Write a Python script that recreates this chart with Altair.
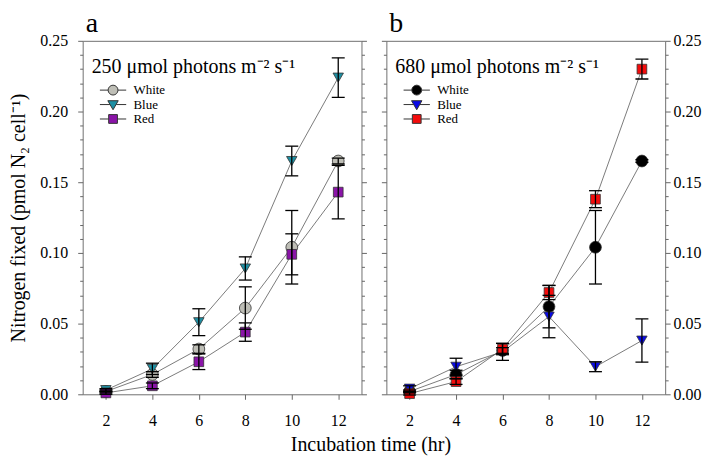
import altair as alt
import pandas as pd

FONT = "Liberation Serif"

times = [2, 4, 6, 8, 10, 12]
series = ["White", "Blue", "Red"]

# Panel a: 250 umol photons m-2 s-1
a_white = [0.002, 0.014, 0.032, 0.061, 0.104, 0.165]
a_white_err = [0.001, 0.002, 0.003, 0.015, 0.026, 0.002]
a_blue = [0.003, 0.018, 0.051, 0.089, 0.165, 0.224]
a_blue_err = [0.001, 0.004, 0.0095, 0.0082, 0.0105, 0.014]
a_red = [0.001, 0.006, 0.023, 0.044, 0.099, 0.143]
a_red_err = [0.001, 0.002, 0.0055, 0.0065, 0.0145, 0.019]

# Panel b: 680 umol photons m-2 s-1
b_white = [0.002, 0.014, 0.031, 0.062, 0.104, 0.165]
b_white_err = [0.001, 0.003, 0.002, 0.015, 0.026, 0.001]
b_blue = [0.004, 0.0195, 0.030, 0.055, 0.0195, 0.038]
b_blue_err = [0.002, 0.006, 0.006, 0.015, 0.0035, 0.0153]
b_red = [0.0005, 0.009, 0.032, 0.072, 0.138, 0.230]
b_red_err = [0.001, 0.002, 0.004, 0.005, 0.006, 0.007]

a_colors = ["#BEBEB6", "#1E8FA3", "#8A14A8"]
b_colors = ["#000000", "#0A0AE6", "#F40C0C"]

x_ticks = [2, 4, 6, 8, 10, 12]
y_ticks = [round(0.01 * i, 2) for i in range(26)]

shapes = ["circle", "triangle-down", "square"]
sizes = [140, 110, 95]
legend_paths = [
    "M-2.4,0L-0.9,0M0.9,0L2.4,0M0.9,0A0.9,0.9,0,1,1,-0.9,0A0.9,0.9,0,1,1,0.9,0Z",
    "M-2.4,0L-0.57,0M0.57,0L2.4,0M-0.95,-0.7L0.95,-0.7L0,0.95Z",
    "M-2.4,0L-0.8,0M0.8,0L2.4,0M-0.8,-0.8L0.8,-0.8L0.8,0.8L-0.8,0.8Z",
]


def build_df(means, errs):
    rows = []
    for name, m_list, e_list in zip(series, means, errs):
        for t, m, e in zip(times, m_list, e_list):
            rows.append(dict(time=t, value=m, lo=m - e, hi=m + e, light=name))
    return pd.DataFrame(rows)


df_a = build_df([a_white, a_blue, a_red], [a_white_err, a_blue_err, a_red_err])
df_b = build_df([b_white, b_blue, b_red], [b_white_err, b_blue_err, b_red_err])

major = "round(datum.value * 100) % 5 == 0"
tick_size = {"condition": {"test": major, "value": 5}, "value": 3}

xs = alt.Scale(domain=[1, 13], nice=False, zero=False)
ys = alt.Scale(domain=[0, 0.25], nice=False, zero=False)

x_axis = alt.Axis(values=x_ticks, format="d", labelFont=FONT, labelFontSize=16,
                  labelColor="black", labelPadding=13, tickSize=5, tickColor="#666",
                  domain=False, grid=False, title=None)


def y_axis_labels(orient, pad, title=None):
    kw = dict(orient=orient, values=y_ticks,
              labelExpr=f"{major} ? format(datum.value, '.2f') : ''",
              labelOverlap=False, labelFont=FONT, labelFontSize=16, labelColor="black",
              labelPadding=pad, tickSize=tick_size, tickColor="#666", domain=False,
              grid=False)
    if title:
        kw.update(title=title, titleFont=FONT, titleFontSize=20, titleFontWeight="normal",
                  titleColor="black", titlePadding=11)
    else:
        kw.update(title=None)
    return alt.Axis(**kw)


def y_axis_ticks(orient):
    return alt.Axis(orient=orient, values=y_ticks, labels=False, tickSize=tick_size,
                    tickColor="#666", domain=False, grid=False, title=None)


def make_panel(df, colors, legend_title, letter, left_axis, right_axis):
    X = alt.X("time:Q", scale=xs, axis=x_axis)
    base = alt.Chart(df)
    lines = base.mark_line(color="#5a5a5a", strokeWidth=0.8).encode(
        x=X, y=alt.Y("value:Q", scale=ys, axis=left_axis), detail="light:N", order="time:Q")
    pts = []
    for name, shp, sz, col in zip(series, shapes, sizes, colors):
        pts.append(base.transform_filter(alt.datum.light == name).mark_point(
            shape=shp, size=sz, filled=True, fill=col, stroke="#333", strokeWidth=0.8,
            opacity=1).encode(x=X, y=alt.Y("value:Q", scale=ys, axis=None)))
    rules = base.mark_rule(color="black", strokeWidth=1.3).encode(
        x=X, y=alt.Y("lo:Q", scale=ys, axis=right_axis), y2="hi:Q")
    cap_lo = base.mark_tick(orient="horizontal", color="black", size=13, thickness=1.3,
                            opacity=1).encode(x=X, y=alt.Y("lo:Q", scale=ys, axis=None))
    cap_hi = base.mark_tick(orient="horizontal", color="black", size=13, thickness=1.3,
                            opacity=1).encode(x=X, y=alt.Y("hi:Q", scale=ys, axis=None))
    leg = alt.Legend(title=legend_title, orient="none", legendX=9, legendY=16, padding=0,
                     titleFont=FONT, titleFontSize=20, titleFontWeight="normal",
                     titleColor="black", titlePadding=7, titleLimit=400,
                     labelFont=FONT, labelFontSize=13, labelColor="black",
                     symbolOffset=15, labelOffset=14, rowPadding=0.5,
                     symbolStrokeWidth=1, symbolSize=121)
    legend_layer = base.transform_filter("false").mark_point(
        filled=True, size=121, stroke="#333", strokeWidth=1, opacity=1).encode(
        x=X, y=alt.Y("value:Q", scale=ys, axis=None),
        shape=alt.Shape("light:N", scale=alt.Scale(domain=series, range=legend_paths), legend=leg),
        fill=alt.Fill("light:N", scale=alt.Scale(domain=series, range=colors), legend=leg))
    return alt.layer(lines, *pts, rules, cap_lo, cap_hi, legend_layer).resolve_scale(
        y="independent").properties(
        width=280, height=355,
        title=alt.TitleParams(letter, anchor="start", frame="group", fontSize=28, font=FONT,
                              fontWeight="normal", color="black", offset=-5, dx=3))


panel_a = make_panel(df_a, a_colors, "250 μmol photons m⁻² s⁻¹", "a",
                     y_axis_labels("left", 10, "Nitrogen fixed (pmol N₂ cell⁻¹)"),
                     y_axis_ticks("right"))
panel_b = make_panel(df_b, b_colors, "680 μmol photons m⁻² s⁻¹", "b",
                     y_axis_ticks("left"), y_axis_labels("right", 3))

chart = alt.hconcat(panel_a, panel_b, spacing=13).resolve_scale(
    shape="independent", fill="independent"
).resolve_legend(
    shape="independent", fill="independent"
).properties(
    padding={"left": 0, "right": 0, "top": 0, "bottom": 0},
    title=alt.TitleParams("Incubation time (hr)", orient="bottom", anchor="middle",
                          fontSize=20, font=FONT, fontWeight="normal", color="black",
                          offset=6, dx=16)
).configure_view(stroke="#707070", strokeWidth=1)

chart.save("out.html", embed_options={"renderer": "svg", "actions": False})
